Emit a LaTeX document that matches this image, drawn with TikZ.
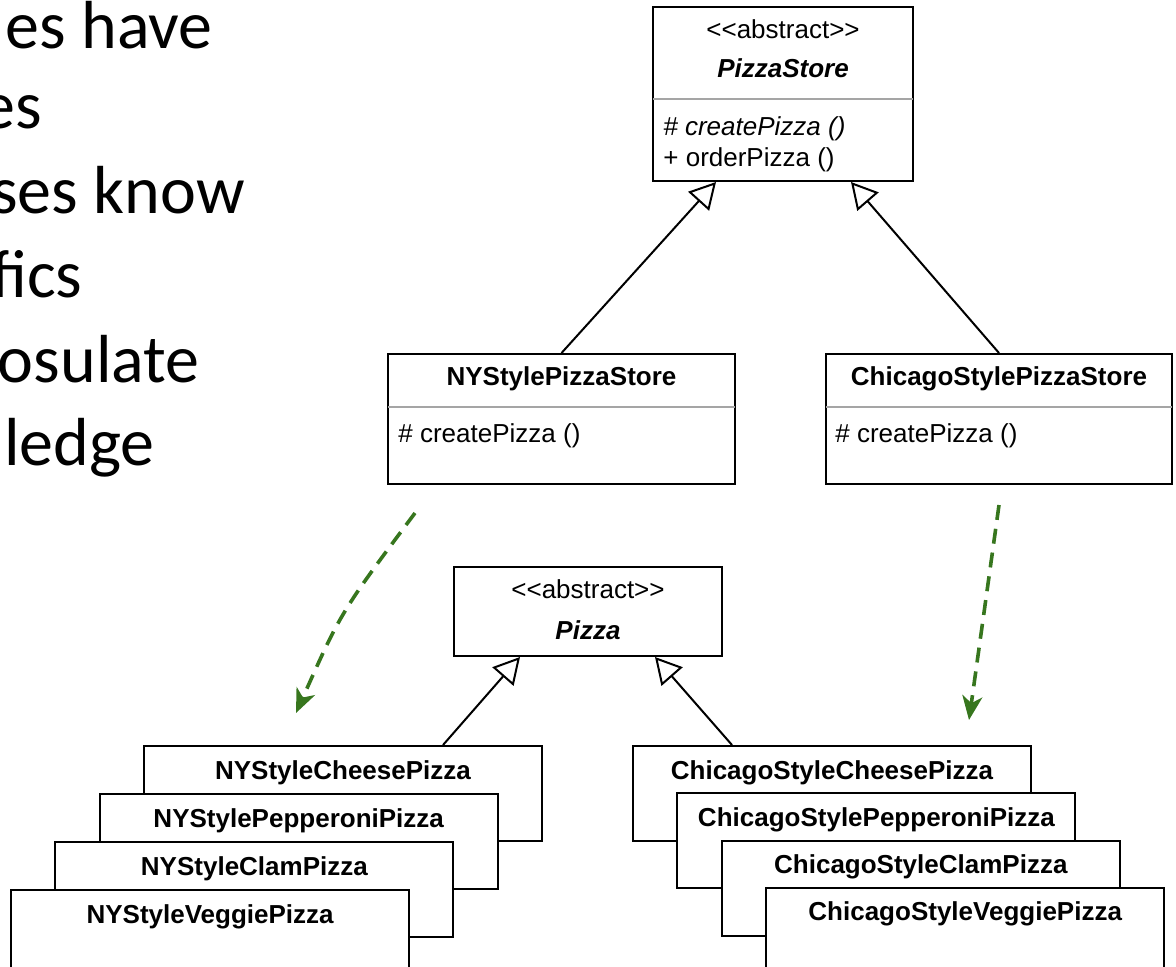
\documentclass[tikz,border=0pt]{standalone}
\usepackage{fontspec}
\setmainfont{Liberation Sans}
\newfontfamily\slidefont{Carlito}
\usetikzlibrary{arrows.meta}

\definecolor{depgreen}{RGB}{55,118,30}
\definecolor{sepgray}{RGB}{165,165,165}

% kern keeps << and >> from turning into guillemets
\newcommand{\stereo}[1]{<\kern0pt<#1>\kern0pt>}

\begin{document}
\begin{tikzpicture}[x=0.5pt, y=-0.5pt,
    box/.style={draw, line width=1pt, fill=white, inner sep=0pt},
    stackbox/.style={box, minimum width=199pt, minimum height=47.5pt},
    uml/.style={font=\fontsize{13}{15}\selectfont, inner sep=0pt},
    slide/.style={font=\slidefont\fontsize{34}{40}\selectfont, inner sep=0pt},
    sep/.style={sepgray, line width=1pt, shorten <=0.5pt, shorten >=0.5pt},
    inherit/.style={line width=1pt, -{Triangle[open, length=13pt, width=14pt, fill=white]}},
    dep/.style={depgreen, line width=1.8pt, dash pattern=on 7.5pt off 4.5pt,
      -{Stealth[length=12pt, width=10pt, inset=3.5pt]}}]
  \useasboundingbox (0,0) rectangle (1176,966);
  \clip (0,0) rectangle (1176,966);

  % slide text on the left
  \foreach \txt/\xr/\yb [count=\k] in {es have/213/48, es/42/128, ses know/245/213,
      fics/83/297, osulate/200/382, ledge/155/465}
    \node[slide, anchor=base east] (line\k) at (\xr,\yb) {\txt};

  % creators
  \node[box, minimum width=130pt, minimum height=87pt] (store) at (783,94) {};
  \draw[sep] ([yshift=-46.5pt]store.north west) -- ([yshift=-46.5pt]store.north east);
  \node[uml, anchor=base] (store-st) at (783,38) {\stereo{abstract}};
  \node[uml, anchor=base] (store-name) at (783,77) {\bfseries\itshape PizzaStore};
  \node[uml, anchor=base west] (store-m1) at (663,135) {\itshape\# createPizza ()};
  \node[uml, anchor=base west] (store-m2) at (663,166) {+ orderPizza ()};

  \node[box, minimum width=173.5pt, minimum height=65pt] (nystore) at (561.5,419) {};
  \draw[sep] ([yshift=-27pt]nystore.north west) -- ([yshift=-27pt]nystore.north east);
  \node[uml, anchor=base] (nystore-name) at (561.5,385) {\bfseries NYStylePizzaStore};
  \node[uml, anchor=base west] (nystore-m1) at (398,442) {\# createPizza ()};

  \node[box, minimum width=173pt, minimum height=65pt] (chstore) at (999,419) {};
  \draw[sep] ([yshift=-27pt]chstore.north west) -- ([yshift=-27pt]chstore.north east);
  \node[uml, anchor=base] (chstore-name) at (999,385) {\bfseries ChicagoStylePizzaStore};
  \node[uml, anchor=base west] (chstore-m1) at (835,442) {\# createPizza ()};

  \draw[inherit] (nystore.north) -- ([xshift=-33.5pt]store.south);
  \draw[inherit] (chstore.north) -- ([xshift=34pt]store.south);

  % products
  \node[box, minimum width=134pt, minimum height=44.5pt] (pizza) at (588,611.5) {};
  \node[uml, anchor=base] (pizza-st) at (588,598) {\stereo{abstract}};
  \node[uml, anchor=base] (pizza-name) at (588,639) {\bfseries\itshape Pizza};

  \foreach \kind [count=\i from 0] in {Cheese,Pepperoni,Clam,Veggie} {
    \node[stackbox] (ny\kind) at (343-44.3*\i, 793.5+48*\i) {};
    \node[uml, anchor=base] (ny\kind-name) at ([yshift=-17pt]ny\kind.north) {\bfseries NYStyle\kind Pizza};
  }
  \foreach \kind [count=\i from 0] in {Cheese,Pepperoni,Clam,Veggie} {
    \node[stackbox] (ch\kind) at (832+44.4*\i, 793.5+47.3*\i) {};
    \node[uml, anchor=base] (ch\kind-name) at ([yshift=-17pt]ch\kind.north) {\bfseries ChicagoStyle\kind Pizza};
  }

  \draw[inherit] ([xshift=50pt]nyCheese.north) -- ([xshift=-34pt]pizza.south);
  \draw[inherit] ([xshift=-50pt]chCheese.north) -- ([xshift=33.5pt]pizza.south);

  % which store makes which pizzas
  \coordinate (nyfrom) at (415,513);
  \coordinate (nyto) at (296,713);
  \coordinate (chfrom) at (999,505);
  \coordinate (chto) at (969,720);
  \draw[dep] (nyfrom) .. controls (341,612) .. (nyto);
  \draw[dep] (chfrom) -- (chto);
\end{tikzpicture}
\end{document}
